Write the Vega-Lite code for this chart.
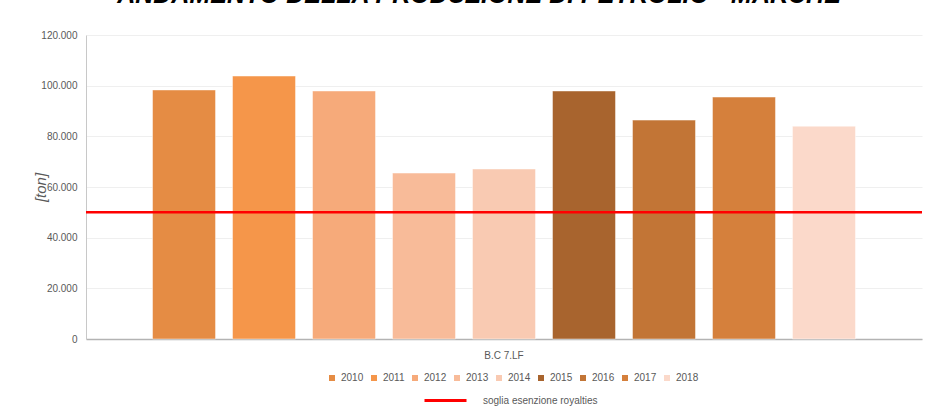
{
  "$schema": "https://vega.github.io/schema/vega-lite/v6.json",
  "autosize": {"type": "none"},
  "width": 836,
  "height": 304,
  "padding": {"left": 86, "top": 35, "right": 17, "bottom": 71},
  "background": "#ffffff",
  "config": {
    "locale": {"number": {"decimal": ",", "thousands": ".", "grouping": [3], "currency": ["€", ""]}},
    "view": {"stroke": null},
    "font": "Liberation Sans"
  },
  "title": {
    "text": "ANDAMENTO DELLA PRODUZIONE DI PETROLIO - MARCHE",
    "font": "Liberation Sans",
    "fontSize": 25,
    "fontWeight": "bold",
    "fontStyle": "italic",
    "color": "#000000",
    "anchor": "middle",
    "dx": -25,
    "baseline": "alphabetic",
    "offset": 2
  },
  "layer": [
    {
      "data": {
        "values": [
          {"categoria": "B.C 7.LF", "anno": "2010", "produzione": 98300},
          {"categoria": "B.C 7.LF", "anno": "2011", "produzione": 103800},
          {"categoria": "B.C 7.LF", "anno": "2012", "produzione": 97900},
          {"categoria": "B.C 7.LF", "anno": "2013", "produzione": 65500},
          {"categoria": "B.C 7.LF", "anno": "2014", "produzione": 67100},
          {"categoria": "B.C 7.LF", "anno": "2015", "produzione": 97900},
          {"categoria": "B.C 7.LF", "anno": "2016", "produzione": 86400},
          {"categoria": "B.C 7.LF", "anno": "2017", "produzione": 95500},
          {"categoria": "B.C 7.LF", "anno": "2018", "produzione": 84000}
        ]
      },
      "mark": {"type": "bar", "stroke": "#ffffff", "strokeOpacity": 0.45, "strokeWidth": 1},
      "encoding": {
        "x": {
          "field": "categoria",
          "type": "nominal",
          "scale": {"paddingInner": 0, "paddingOuter": 0.0806},
          "axis": {
            "title": null,
            "labelAngle": 0,
            "labelFont": "Liberation Sans",
            "labelFontSize": 10,
            "labelColor": "#595959",
            "labelPadding": 11,
            "ticks": false,
            "domainColor": "#b3b3b3",
            "domainWidth": 1.5,
            "grid": false
          }
        },
        "xOffset": {
          "field": "anno",
          "type": "nominal",
          "scale": {"paddingInner": 0.2125, "paddingOuter": 0.10625}
        },
        "y": {
          "field": "produzione",
          "type": "quantitative",
          "scale": {"domain": [0, 120000], "nice": false},
          "axis": {
            "title": "[ton]",
            "titleFont": "Liberation Sans",
            "titleFontSize": 15,
            "titleFontStyle": "italic",
            "titleFontWeight": "normal",
            "titleColor": "#595959",
            "titleAngle": -90,
            "titleAlign": "center",
            "titleBaseline": "middle",
            "titleX": -46,
            "titleY": 152,
            "values": [0, 10000, 20000, 30000, 40000, 50000, 60000, 70000, 80000, 90000, 100000, 110000, 120000],
            "format": ",.0f",
            "labelExpr": "datum.value % 20000 === 0 ? datum.label : ''",
            "labelFont": "Liberation Sans",
            "labelFontSize": 10,
            "labelColor": "#595959",
            "labelPadding": 9,
            "ticks": false,
            "domainColor": "#c8c8c8",
            "domainWidth": 1,
            "gridColor": "#efefef",
            "gridWidth": 1
          }
        },
        "color": {
          "field": "anno",
          "type": "nominal",
          "scale": {
            "domain": ["2010", "2011", "2012", "2013", "2014", "2015", "2016", "2017", "2018"],
            "range": ["#E58C44", "#F5964A", "#F6AA7A", "#F8BB99", "#F9CAB2", "#A8642E", "#C27536", "#D5803C", "#FBD9CA"]
          },
          "legend": {
            "title": null,
            "orient": "none",
            "legendX": 241,
            "legendY": 338,
            "direction": "horizontal",
            "columns": 9,
            "padding": 0,
            "symbolType": "square",
            "symbolSize": 36,
            "symbolStrokeWidth": 0,
            "labelOffset": 4,
            "columnPadding": 5,
            "labelFont": "Liberation Sans",
            "labelFontSize": 10,
            "labelColor": "#595959"
          }
        }
      }
    },
    {
      "data": {"values": [{"serie": "soglia esenzione royalties", "soglia": 50000}]},
      "mark": {"type": "rule", "strokeWidth": 2.5},
      "encoding": {
        "y": {"field": "soglia", "type": "quantitative"},
        "stroke": {
          "field": "serie",
          "type": "nominal",
          "scale": {"range": ["#ff0000"]},
          "legend": {
            "title": null,
            "orient": "none",
            "legendX": 337,
            "legendY": 343,
            "padding": 0,
            "symbolType": "stroke",
            "symbolSize": 1764,
            "symbolStrokeWidth": 3,
            "labelOffset": 15,
            "labelFont": "Liberation Sans",
            "labelFontSize": 10,
            "labelColor": "#595959"
          }
        }
      }
    }
  ]
}
